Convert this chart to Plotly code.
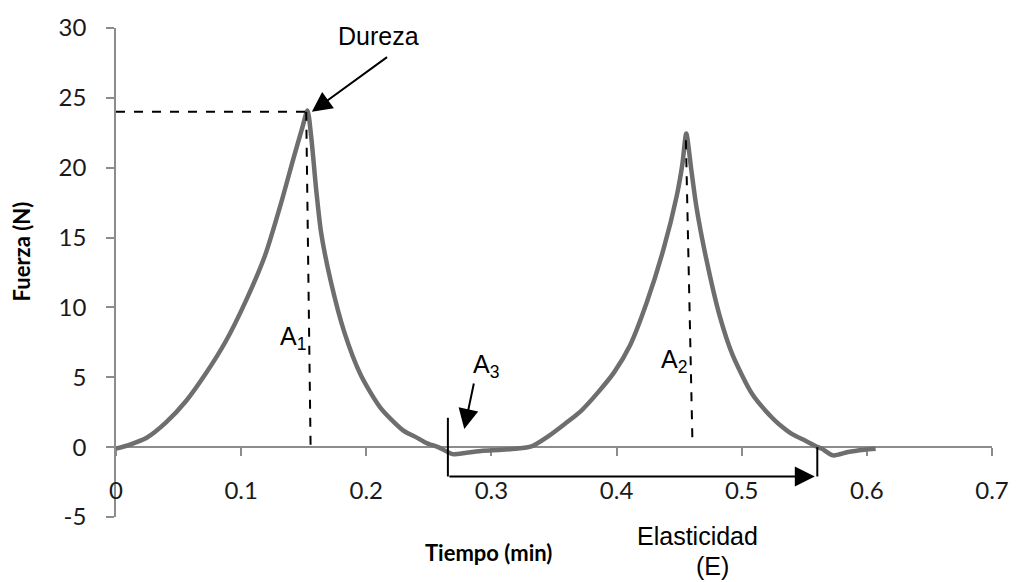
import plotly.graph_objects as go

# ---- data ----
tiempo = [0.000, 0.010, 0.0245, 0.040, 0.056, 0.072, 0.0876, 0.1034, 0.119, 0.132, 0.1416,
          0.1490, 0.1530, 0.156, 0.160, 0.1639, 0.1718, 0.1823, 0.1954, 0.2112, 0.2297, 0.240, 0.248,
          0.2575, 0.265, 0.269, 0.280, 0.293, 0.306, 0.319, 0.332, 0.345, 0.3586, 0.3717,
          0.385, 0.398, 0.411, 0.4243, 0.4375, 0.448, 0.4525, 0.4557, 0.4595, 0.4638, 0.4717, 0.4822,
          0.4927, 0.5085, 0.5243, 0.5296, 0.540, 0.5506, 0.561, 0.5638, 0.573, 0.5849, 0.598, 0.607]
fuerza = [-0.1, 0.15, 0.67, 1.77, 3.3, 5.3, 7.56, 10.4, 13.7, 17.5, 20.6,
          22.9, 24.1, 22.2, 18.4, 15.35, 11.8, 8.27, 5.2, 2.83, 1.18, 0.7, 0.3,
          0.0, -0.35, -0.5, -0.4, -0.25, -0.2, -0.12, 0.05, 0.75, 1.66, 2.6,
          3.9, 5.35, 7.33, 10.4, 14.17, 17.95, 20.2, 22.45, 20.0, 17.2, 13.46, 9.45,
          6.6, 3.78, 2.1, 1.66, 0.95, 0.47, 0.0, -0.1, -0.59, -0.35, -0.19, -0.12]

x_ticks = [0, 0.1, 0.2, 0.3, 0.4, 0.5, 0.6, 0.7]
x_tick_labels = ["0", "0.1", "0.2", "0.3", "0.4", "0.5", "0.6", "0.7"]
y_ticks = [-5, 0, 5, 10, 15, 20, 25, 30]
y_tick_labels = ["-5", "0", "5", "10", "15", "20", "25", "30"]

dureza_valor = 24.0
a1_linea = [(0.1520, 24.0), (0.1555, 0.0)]
a2_linea = [(0.4554, 21.96), (0.4606, 0.47)]
elasticidad_inicio = 0.2652
elasticidad_fin = 0.5604

AXIS_COLOR = "#8c8c8c"
TICK_FONT = dict(family="Lato, 'Open Sans', sans-serif", size=24, color="#1a1a1a")
TITLE_FONT = dict(family="Lato, 'Open Sans', sans-serif", size=22, color="#000000")
ANN_FONT = dict(family="'Liberation Sans', Arial, sans-serif", size=25, color="#000000")

fig = go.Figure()
fig.add_trace(go.Scatter(x=tiempo, y=fuerza, mode="lines",
                         line=dict(color="#6e6e6e", width=4.5, shape="spline", smoothing=0.7),
                         showlegend=False, hoverinfo="skip"))

shapes = []
dash = dict(color="black", width=2, dash="dash")
shapes.append(dict(type="line", xref="x", yref="y", x0=0, y0=dureza_valor,
                   x1=a1_linea[0][0], y1=dureza_valor, line=dash))
shapes.append(dict(type="line", xref="x", yref="y", x0=a1_linea[0][0], y0=a1_linea[0][1],
                   x1=a1_linea[1][0], y1=a1_linea[1][1], line=dash))
shapes.append(dict(type="line", xref="x", yref="y", x0=a2_linea[0][0], y0=a2_linea[0][1],
                   x1=a2_linea[1][0], y1=a2_linea[1][1], line=dash))
solid = dict(color="black", width=2)
shapes.append(dict(type="line", xref="x", yref="y", x0=elasticidad_inicio, y0=2.1,
                   x1=elasticidad_inicio, y1=-2.1, line=solid))
shapes.append(dict(type="line", xref="x", yref="y", x0=elasticidad_fin, y0=0.0,
                   x1=elasticidad_fin, y1=-2.1, line=solid))

annotations = []
arrow_style = dict(xref="x", yref="y", axref="x", ayref="y", text="", showarrow=True,
                   arrowhead=2, arrowsize=2, arrowwidth=2, arrowcolor="black", standoff=0)
annotations.append(dict(x=elasticidad_fin - 0.002, y=-2.1, ax=elasticidad_inicio, ay=-2.1, **arrow_style))
annotations.append(dict(x=0.1565, y=24.0, ax=0.2178, ay=27.99, **arrow_style))
annotations.append(dict(x=0.2783, y=1.30, ax=0.2862, ay=4.66, **arrow_style))

annotations.append(dict(x=0.2099, y=29.45, xref="x", yref="y", text="Dureza", showarrow=False,
                        font=ANN_FONT, xanchor="center", yanchor="middle"))
annotations.append(dict(x=0.1297, y=7.8, xref="x", yref="y", text="A<sub>1</sub>", showarrow=False,
                        font=ANN_FONT, xanchor="left", yanchor="middle"))
annotations.append(dict(x=0.4336, y=6.15, xref="x", yref="y", text="A<sub>2</sub>", showarrow=False,
                        font=ANN_FONT, xanchor="left", yanchor="middle"))
annotations.append(dict(x=0.2836, y=5.8, xref="x", yref="y", text="A<sub>3</sub>", showarrow=False,
                        font=ANN_FONT, xanchor="left", yanchor="middle"))
annotations.append(dict(x=0.664, y=-0.0385, xref="paper", yref="paper", text="Elasticidad",
                        showarrow=False, font=ANN_FONT, xanchor="center", yanchor="middle"))
annotations.append(dict(x=0.681, y=-0.0992, xref="paper", yref="paper", text="(E)",
                        showarrow=False, font=ANN_FONT, xanchor="center", yanchor="middle"))
annotations.append(dict(x=0.425, y=-0.0729, xref="paper", yref="paper", text="<b>Tiempo (min)</b>",
                        showarrow=False, font=TITLE_FONT, xanchor="center", yanchor="middle"))
annotations.append(dict(x=-0.1082, y=0.5435, xref="paper", yref="paper", text="<b>Fuerza (N)</b>",
                        showarrow=False, font=TITLE_FONT, xanchor="center", yanchor="middle",
                        textangle=-90))

fig.update_layout(
    width=1021, height=582,
    margin=dict(l=116, r=18, t=21, b=65, pad=0),
    paper_bgcolor="white", plot_bgcolor="white",
    shapes=shapes, annotations=annotations,
    xaxis=dict(range=[0, 0.7], tickvals=x_ticks, ticktext=x_tick_labels,
               showgrid=False, zeroline=False, showline=True, linecolor=AXIS_COLOR, linewidth=1.5,
               ticks="outside", ticklen=8, tickcolor=AXIS_COLOR, tickwidth=1.5,
               anchor="free", position=5 / 35, tickfont=TICK_FONT, ticklabelstandoff=14,
               layer="below traces"),
    yaxis=dict(range=[-5, 30], tickvals=y_ticks, ticktext=y_tick_labels,
               showgrid=False, zeroline=False, showline=True, linecolor=AXIS_COLOR, linewidth=1.5,
               ticks="outside", ticklen=8, tickcolor=AXIS_COLOR, tickwidth=1.5,
               tickfont=TICK_FONT, ticklabelstandoff=15, layer="below traces",
               domain=[0, 1]),
)

fig.write_html("out.html")
